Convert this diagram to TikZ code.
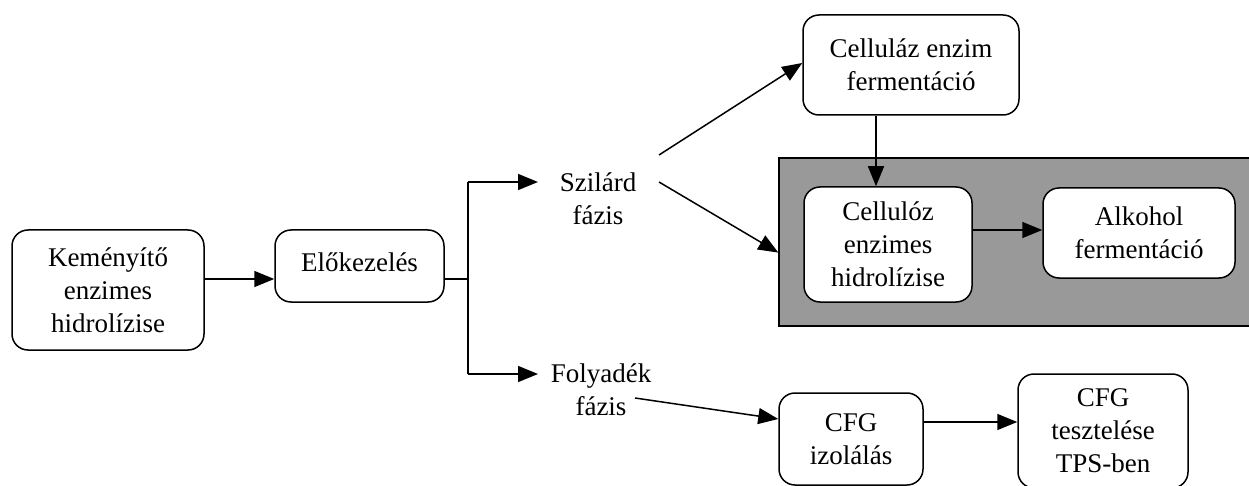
\documentclass[tikz,border=0pt]{standalone}
\usepackage{fontspec}
\setmainfont{Liberation Serif}
\usetikzlibrary{arrows.meta}
\definecolor{boxgray}{HTML}{999999}
\tikzset{
  proc/.style={draw, line width=1.5pt, rounded corners=16pt, fill=white, align=center, inner sep=0pt,
    font=\fontsize{27}{33}\selectfont},
  lbl/.style={align=center, inner sep=0pt, font=\fontsize{27}{33}\selectfont},
  conn/.style={line width=1.5pt, -{Triangle[length=20pt,width=16pt]}},
  plain/.style={line width=1.5pt}
}
\begin{document}
\begin{tikzpicture}[x=1pt,y=-1pt]
\useasboundingbox (0,0) rectangle (1249,486);
% gray background box
\draw[line width=1.5pt, fill=boxgray] (779,158) rectangle (1262,326);
\node (grayw) at (779,253) [inner sep=0pt] {};

\node[proc, minimum width=192pt, minimum height=120pt] (k) at (108,290) {Keményítő\\enzimes\\hidrolízise};
\node[proc, minimum width=169pt, minimum height=72pt] (e) at (359.5,266) {};
\node[lbl] (et) at (359.5,262) {Előkezelés};
\node[lbl] (sz) at (598,199) {Szilárd\\fázis};
\node[lbl] (fo) at (601,390) {Folyadék\\fázis};
\node[proc, minimum width=216pt, minimum height=100pt] (cz) at (911,65) {Celluláz enzim\\fermentáció};
\node[proc, minimum width=168pt, minimum height=115pt] (cl) at (888,244.5) {Cellulóz\\enzimes\\hidrolízise};
\node[proc, minimum width=192pt, minimum height=90pt] (al) at (1139,233) {Alkohol\\fermentáció};
\node[proc, minimum width=144pt, minimum height=92pt] (ci) at (851,439) {CFG\\izolálás};
\node[proc, minimum width=170pt, minimum height=114pt] (ct) at (1103,431) {CFG\\tesztelése\\TPS-ben};

\coordinate (j) at (468,279);
\coordinate (jt) at (468,182);
\coordinate (jb) at (468,374);
\coordinate (szin) at (538,182);
\coordinate (foin) at (538,374);
\coordinate (szout1) at (659,155);
\coordinate (szout2) at (659,182);
\coordinate (foout) at (635,398);

\draw[conn] (k.east |- 0,279) -- (e.west |- 0,279);
\draw[plain] (e.east |- 0,279) -- (j);
\draw[plain] (jt) -- (jb);
\draw[conn] (jt) -- (szin);
\draw[conn] (jb) -- (foin);
\draw[conn] (szout1) -- (cz.west |- 0,63);
\draw[conn] (szout2) -- (grayw);
\draw[conn] (cz.south -| 876,0) -- (cl.north -| 876,0);
\draw[conn] (cl.east |- 0,230) -- (al.west |- 0,230);
\draw[conn] (foout) -- (ci.west |- 0,419);
\draw[conn] (ci.east |- 0,422) -- (ct.west |- 0,422);
\end{tikzpicture}
\end{document}
